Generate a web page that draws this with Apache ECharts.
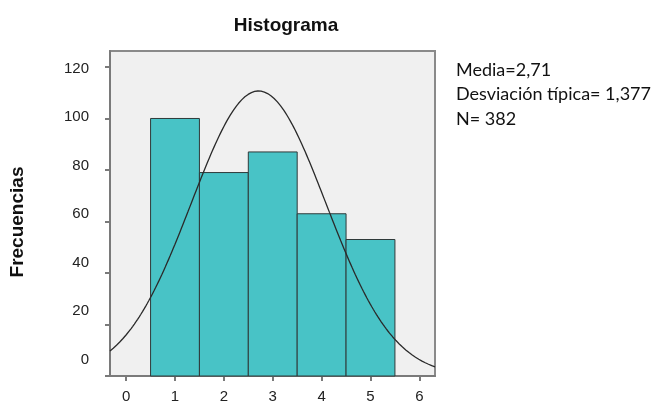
<!DOCTYPE html>
<html>
<head>
<meta charset="utf-8">
<script src="https://cdn.jsdelivr.net/npm/echarts@6/dist/echarts.min.js"></script>
<style>
  html, body { margin: 0; padding: 0; background: #ffffff; }
  #chart { width: 653px; height: 404px; }
</style>
</head>
<body>
<div id="chart"></div>
<script>
// Frequency table of the variable (class centres and counts)
const classes = [1, 2, 3, 4, 5];
const counts = [100, 79, 87, 63, 53];

// Summary statistics shown beside the plot
const mean = 2.71;
const stdDev = 1.377;
const total = 382;
const statLines = ['Media=2,71', 'Desviación típica= 1,377', 'N= 382'];

// Axis ticks
const xTicks = [0, 1, 2, 3, 4, 5, 6];
const yTicks = [0, 20, 40, 60, 80, 100, 120];

const xMin = -0.33, xMax = 6.32;
const binWidth = 1;

// Fitted normal curve, scaled to the counts (N * bin width * density)
const curve = [];
for (let i = 0; i <= 200; i++) {
  const x = xMin + (xMax - xMin) * i / 200;
  const z = (x - mean) / stdDev;
  const y = total * binWidth * Math.exp(-0.5 * z * z) / (stdDev * Math.sqrt(2 * Math.PI));
  curve.push([x, y]);
}

const chart = echarts.init(document.getElementById('chart'), null, { renderer: 'canvas' });

const tickFont = { fontFamily: 'Liberation Sans, Arial, sans-serif', fontSize: 15, color: '#222' };
const axisGrey = '#7a7a7a';

chart.setOption({
  animation: false,
  backgroundColor: '#ffffff',
  title: {
    text: 'Histograma',
    left: 281, top: 11, textAlign: 'center',
    textStyle: { fontFamily: 'Liberation Sans, Arial, sans-serif', fontWeight: 'bold', fontSize: 19, color: '#111' }
  },
  grid: {
    left: 110, right: 218, top: 51, bottom: 27,
    show: true, backgroundColor: '#f0f0f0', borderColor: '#8a8a8a', borderWidth: 2
  },
  xAxis: {
    type: 'value', min: xMin, max: xMax,
    axisLine: { show: true, onZero: false, lineStyle: { color: axisGrey, width: 2 } },
    axisTick: { show: true, customValues: xTicks, length: 5, lineStyle: { color: axisGrey, width: 2 } },
    axisLabel: { customValues: xTicks, margin: 13, ...tickFont },
    splitLine: { show: false }
  },
  yAxis: [
    {
      type: 'value', min: 0, max: 126.2,
      axisLine: { show: true, onZero: false, lineStyle: { color: axisGrey, width: 2 } },
      axisTick: { show: true, customValues: yTicks, length: 5, lineStyle: { color: axisGrey, width: 2 } },
      axisLabel: { show: false },
      splitLine: { show: false }
    },
    {
      // label-only axis: tick labels sit slightly offset from the tick marks
      type: 'value', position: 'left', min: -6.8, max: 127.2,
      axisLine: { show: false, onZero: false }, axisTick: { show: false },
      axisLabel: { customValues: yTicks, margin: 21, ...tickFont },
      splitLine: { show: false }
    }
  ],
  series: [
    {
      type: 'custom',
      xAxisIndex: 0, yAxisIndex: 0,
      data: classes.map((c, i) => [c, counts[i]]),
      renderItem: function (params, api) {
        const x = api.value(0), y = api.value(1);
        const p0 = api.coord([x - binWidth / 2, y]);
        const p1 = api.coord([x + binWidth / 2, 0]);
        return {
          type: 'rect',
          shape: { x: p0[0], y: p0[1], width: p1[0] - p0[0], height: p1[1] - p0[1] },
          style: { fill: '#48c3c6', stroke: '#2f3a3a', lineWidth: 1 }
        };
      },
      z: 2
    },
    {
      type: 'line',
      xAxisIndex: 0, yAxisIndex: 0,
      data: curve,
      showSymbol: false,
      smooth: false,
      lineStyle: { color: '#2a2a2a', width: 1.3 },
      z: 3
    }
  ],
  graphic: [
    {
      type: 'text',
      x: 18, y: 222, rotation: Math.PI / 2,
      style: {
        text: 'Frecuencias', align: 'center', verticalAlign: 'middle',
        fontFamily: 'Liberation Sans, Arial, sans-serif', fontWeight: 'bold', fontSize: 19, fill: '#111'
      }
    }
  ].concat(statLines.map((t, i) => ({
    type: 'text',
    left: 456, top: 61 + i * 24.5,
    style: { text: t, fontFamily: 'Lato, sans-serif', fontSize: 18, fill: '#111' }
  })))
});
</script>
</body>
</html>
